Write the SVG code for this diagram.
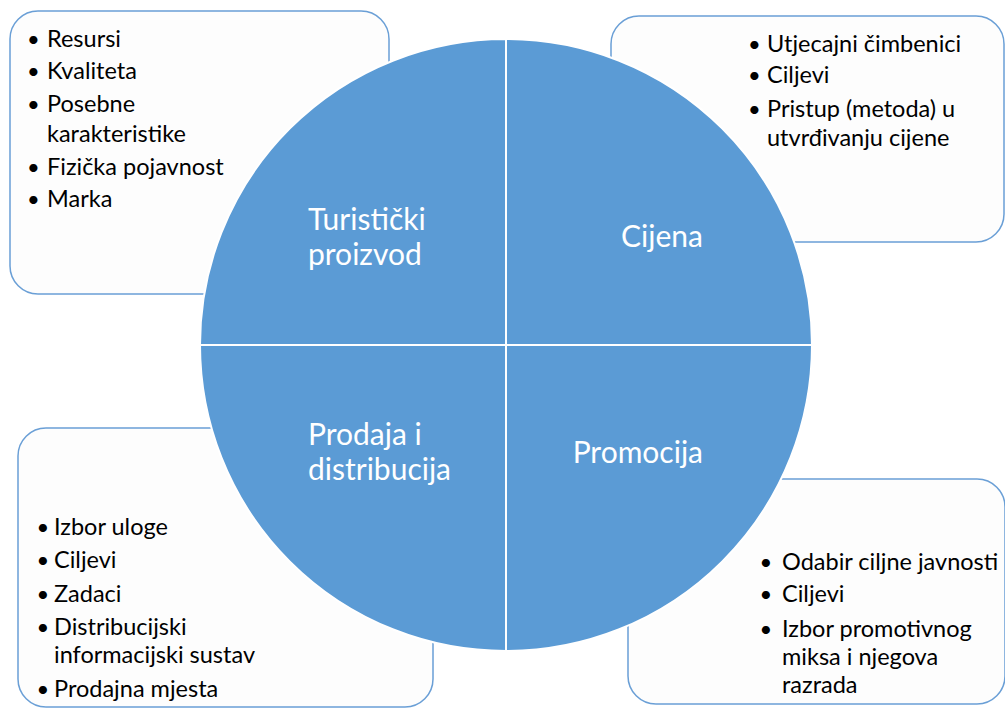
<svg xmlns="http://www.w3.org/2000/svg" width="1005" height="709" viewBox="0 0 1005 709">
<style>
.box{fill:#fdfdfd;stroke:#6a9fd6;stroke-width:1.5}
.q{fill:#5b9bd5;stroke:#ffffff;stroke-width:2}
.t{font-family:Lato,"Open Sans",sans-serif;font-size:23.5px;fill:#000}
.b{font-family:Lato,"Open Sans",sans-serif;font-size:22px;fill:#000}
.w{font-family:Lato,"Open Sans",sans-serif;font-size:30px;fill:#fff}
</style>
<rect width="1005" height="709" fill="#fff"/>
<g id="box-proizvod">
<rect class="box" x="10" y="11" width="379" height="283" rx="28"/>
<text class="b" x="27" y="47">•</text><text class="t" x="47" y="47">Resursi</text>
<text class="b" x="27" y="79">•</text><text class="t" x="47" y="79">Kvaliteta</text>
<text class="b" x="27" y="112">•</text><text class="t" x="47" y="112">Posebne</text>
<text class="t" x="47" y="142">karakteristike</text>
<text class="b" x="27" y="175">•</text><text class="t" x="47" y="175">Fizička pojavnost</text>
<text class="b" x="27" y="207">•</text><text class="t" x="47" y="207">Marka</text>
</g>
<g id="box-cijena">
<rect class="box" x="611" y="16" width="393" height="226" rx="28"/>
<text class="b" x="748" y="52">•</text><text class="t" x="767" y="52">Utjecajni čimbenici</text>
<text class="b" x="748" y="83">•</text><text class="t" x="767" y="83">Ciljevi</text>
<text class="b" x="748" y="117">•</text><text class="t" x="767" y="117">Pristup (metoda) u</text>
<text class="t" x="767" y="146">utvrđivanju cijene</text>
</g>
<g id="box-prodaja">
<rect class="box" x="18" y="428" width="415" height="279" rx="28"/>
<text class="b" x="36.5" y="535">•</text><text class="t" x="54" y="535">Izbor uloge</text>
<text class="b" x="36.5" y="568">•</text><text class="t" x="54" y="568">Ciljevi</text>
<text class="b" x="36.5" y="602">•</text><text class="t" x="54" y="602">Zadaci</text>
<text class="b" x="36.5" y="635">•</text><text class="t" x="54" y="635">Distribucijski</text>
<text class="t" x="54" y="663">informacijski sustav</text>
<text class="b" x="36.5" y="697">•</text><text class="t" x="54" y="697">Prodajna mjesta</text>
</g>
<g id="box-promocija">
<rect class="box" x="628" y="479" width="377" height="225" rx="28"/>
<text class="b" x="759.5" y="570">•</text><text class="t" x="782" y="570">Odabir ciljne javnosti</text>
<text class="b" x="759.5" y="602">•</text><text class="t" x="782" y="602">Ciljevi</text>
<text class="b" x="759.5" y="637">•</text><text class="t" x="782" y="637">Izbor promotivnog</text>
<text class="t" x="782" y="665">miksa i njegova</text>
<text class="t" x="782" y="693">razrada</text>
</g>
<g id="q-turisticki">
<path class="q" d="M506,345 L200,345 A306,306 0 0 1 506,39 Z"/>
<text class="w" x="308" y="230">Turistički</text>
<text class="w" x="308" y="265">proizvod</text>
</g>
<g id="q-cijena">
<path class="q" d="M506,345 L506,39 A306,306 0 0 1 812,345 Z"/>
<text class="w" x="703" y="247" text-anchor="end">Cijena</text>
</g>
<g id="q-promocija">
<path class="q" d="M506,345 L812,345 A306,306 0 0 1 506,651 Z"/>
<text class="w" x="703" y="463" text-anchor="end">Promocija</text>
</g>
<g id="q-prodaja">
<path class="q" d="M506,345 L506,651 A306,306 0 0 1 200,345 Z"/>
<text class="w" x="308" y="445">Prodaja i</text>
<text class="w" x="308" y="480">distribucija</text>
</g>
</svg>
